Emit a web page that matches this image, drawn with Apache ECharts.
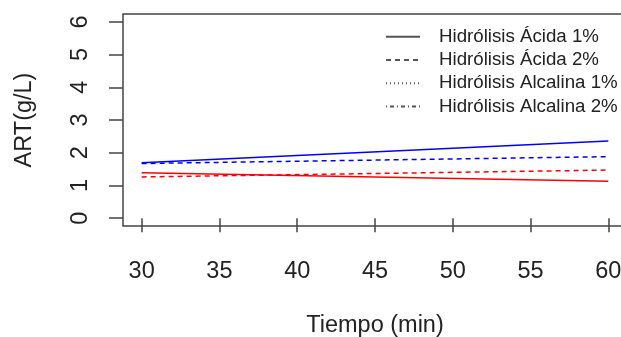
<!DOCTYPE html>
<html>
<head>
<meta charset="utf-8">
<script src="https://cdn.jsdelivr.net/npm/echarts@6/dist/echarts.min.js"></script>
<style>
  html, body { margin: 0; padding: 0; background: #fff; }
  #chart { width: 621px; height: 337px; }
</style>
</head>
<body>
<div id="chart"></div>
<script>
// tiempo (min) y ART (g/L)
const tiempo = [30, 60];
const acida1Azul = [1.69, 2.36];
const acida2Azul = [1.67, 1.88];
const acida1Rojo = [1.39, 1.13];
const acida2Rojo = [1.26, 1.47];

const xTicks = [30, 35, 40, 45, 50, 55, 60];
const yTicks = [0, 1, 2, 3, 4, 5, 6];
const nombres = ['Hidrólisis Ácida 1%', 'Hidrólisis Ácida 2%', 'Hidrólisis Alcalina 1%', 'Hidrólisis Alcalina 2%'];
const tiposLinea = ['solid', [5, 4], [1, 3], [1, 3, 4, 3]];

const pares = (ys) => ys.map((y, i) => [tiempo[i], y]);
const font = 'Liberation Sans, Arial, sans-serif';

const linea = (name, ys, color, type) => ({
  name: name,
  type: 'line',
  symbol: 'none',
  data: pares(ys),
  lineStyle: { color: color, width: 1.5, type: type },
  itemStyle: { color: color },
  silent: true
});

// series solo para la leyenda (negras, sin datos)
const leyenda = nombres.map((n, i) => ({
  name: n,
  type: 'line',
  symbol: 'none',
  data: [],
  lineStyle: { color: '#555', width: 1.5, type: tiposLinea[i] },
  itemStyle: { color: '#555' }
}));

const myChart = echarts.init(document.getElementById('chart'));
myChart.setOption({
  animation: false,
  textStyle: { fontFamily: font },
  grid: {
    show: true,
    outerBoundsMode: 'none',
    left: 123, top: 14, width: 504, height: 212,
    borderColor: '#444', borderWidth: 1.5
  },
  legend: {
    orient: 'vertical',
    left: 380, top: 20,
    itemWidth: 34, itemHeight: 14, itemGap: 0,
    selectedMode: false,
    itemStyle: { opacity: 0 },
    textStyle: { fontSize: 18.7, color: '#222', lineHeight: 23.3, padding: [0, 0, 0, 14] },
    data: nombres
  },
  xAxis: {
    type: 'value',
    min: 28.8, max: 61.2,
    name: 'Tiempo (min)',
    nameLocation: 'middle',
    nameGap: 88,
    nameTextStyle: { fontSize: 23.5, color: '#222', fontFamily: font },
    axisLine: { show: false },
    splitLine: { show: false },
    axisTick: { show: true, length: 14, customValues: xTicks, lineStyle: { color: '#444', width: 1.5 } },
    axisLabel: { customValues: xTicks, fontSize: 23.5, color: '#222', margin: 34 }
  },
  yAxis: {
    type: 'value',
    min: -0.24, max: 6.24,
    name: 'ART(g/L)',
    nameLocation: 'middle',
    nameRotate: 90,
    nameGap: 86,
    nameTextStyle: { fontSize: 23.5, color: '#222', fontFamily: font },
    axisLine: { show: false },
    splitLine: { show: false },
    axisTick: { show: true, length: 14, customValues: yTicks, lineStyle: { color: '#444', width: 1.5 } },
    axisLabel: { customValues: yTicks, fontSize: 23.5, color: '#222', rotate: 90, margin: 30 }
  },
  series: [
    linea('Ácida 1% azul', acida1Azul, '#0000ff', tiposLinea[0]),
    linea('Ácida 1% rojo', acida1Rojo, '#ff0000', tiposLinea[0]),
    linea('Ácida 2% azul', acida2Azul, '#0000ff', tiposLinea[1]),
    linea('Ácida 2% rojo', acida2Rojo, '#ff0000', tiposLinea[1])
  ].concat(leyenda)
});
</script>
</body>
</html>
